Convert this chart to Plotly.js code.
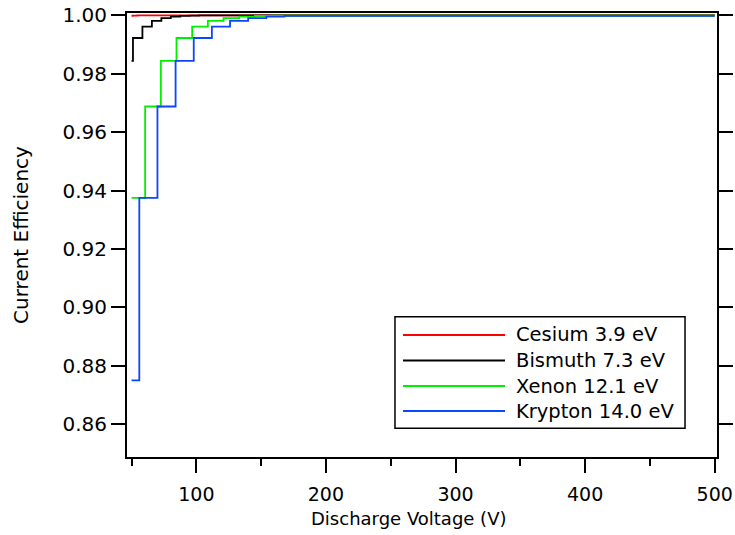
<!DOCTYPE html>
<html>
<head>
<meta charset="utf-8">
<script src="https://cdn.plot.ly/plotly-3.0.1.min.js"></script>
<style>html,body{margin:0;padding:0;background:#fff;}#chart{width:735px;height:535px;}</style>
</head>
<body>
<div id="chart"></div>
<script>
// Series names (legend labels)
const seriesNames = ["Cesium 3.9 eV", "Bismuth 7.3 eV", "Xenon 12.1 eV", "Krypton 14.0 eV"];
const seriesColors = ["#ff0000", "#000000", "#00ee00", "#0a45ff"];

// Step breakpoints (discharge voltage, V) and current efficiency after each step
const cesiumV   = [50, 50.7, 54.6, 58.5, 500];
const cesiumEff = [0.99976, 0.99988, 0.99994, 0.99997, 0.99997];

const bismuthV   = [50, 51.1, 58.4, 65.7, 73.0, 80.3, 87.6, 94.9, 102.2, 500];
const bismuthEff = [0.98438, 0.99219, 0.99609, 0.99805, 0.99902, 0.99951, 0.99976, 0.99988, 0.99994, 0.99994];

const xenonV   = [50, 60.5, 72.6, 84.7, 96.8, 108.9, 121.0, 133.1, 145.2, 157.3, 500];
const xenonEff = [0.9375, 0.96875, 0.98438, 0.99219, 0.99609, 0.99805, 0.99902, 0.99951, 0.99976, 0.99988, 0.99988];

const kryptonV   = [50, 56, 70, 84, 98, 112, 126, 140, 154, 168, 500];
const kryptonEff = [0.875, 0.9375, 0.96875, 0.98438, 0.99219, 0.99609, 0.99805, 0.99902, 0.99951, 0.99976, 0.99976];

const xTitle = 'Discharge Voltage (V)';
const yTitle = 'Current Efficiency';

const xs = [cesiumV, bismuthV, xenonV, kryptonV];
const ys = [cesiumEff, bismuthEff, xenonEff, kryptonEff];

const FONT = '"DejaVu Sans", Verdana, sans-serif';

const traces = xs.map((x, i) => ({
  type: 'scatter', mode: 'lines', x: x, y: ys[i], name: seriesNames[i],
  line: {shape: 'hv', color: seriesColors[i], width: 1.8},
  showlegend: false, hoverinfo: 'skip'
}));

// Custom legend (long line samples like the original)
const legBox = {x0: 0.4542, x1: 0.9458, y0: 0.0646, y1: 0.316};
const legRows = [0.2748, 0.2173, 0.1599, 0.1036];
const shapes = [{
  type: 'rect', xref: 'paper', yref: 'paper',
  x0: legBox.x0, x1: legBox.x1, y0: legBox.y0, y1: legBox.y1,
  line: {color: '#000', width: 1.5}, fillcolor: '#fff', layer: 'above'
}];
const annotations = [];
seriesNames.forEach((nm, i) => {
  shapes.push({type: 'line', xref: 'paper', yref: 'paper',
    x0: 0.4678, x1: 0.6407, y0: legRows[i], y1: legRows[i],
    line: {color: seriesColors[i], width: 1.8}, layer: 'above'});
  annotations.push({xref: 'paper', yref: 'paper', x: 0.6559, y: legRows[i],
    xanchor: 'left', yanchor: 'middle', text: nm, showarrow: false,
    font: {family: FONT, size: 19.5, color: '#000'}});
});
// x-axis title (placed as in the original, slightly left of centre)
annotations.push({xref: 'paper', yref: 'paper', x: 0.4763, y: -0.1396,
  xanchor: 'center', yanchor: 'middle', text: xTitle, showarrow: false,
  font: {family: FONT, size: 18, color: '#000'}});

const layout = {
  width: 735, height: 535,
  margin: {l: 127, r: 18, t: 13, b: 78, pad: 0},
  paper_bgcolor: '#fff', plot_bgcolor: '#fff',
  font: {family: FONT, size: 18, color: '#000'},
  xaxis: {
    range: [46.5, 501.8], showgrid: false, zeroline: false,
    showline: true, linecolor: '#000', linewidth: 2, mirror: true,
    ticks: 'outside', ticklen: 14, tickwidth: 2, tickcolor: '#000',
    tick0: 0, dtick: 100,
    minor: {ticks: 'outside', dtick: 50, tick0: 0, ticklen: 7, tickwidth: 2, tickcolor: '#000', showgrid: false},
    tickfont: {family: FONT, size: 19},
    ticklabelstandoff: 5
  },
  yaxis: {
    range: [0.8488, 1.00075], showgrid: false, zeroline: false,
    showline: true, linecolor: '#000', linewidth: 2, mirror: 'ticks',
    ticks: 'outside', ticklen: 14, tickwidth: 2, tickcolor: '#000',
    tick0: 0, dtick: 0.02, tickformat: '.2f',
    tickfont: {family: FONT, size: 20},
    title: {text: yTitle, font: {family: FONT, size: 20}, standoff: 28}
  },
  shapes: shapes,
  annotations: annotations
};

Plotly.newPlot('chart', traces, layout, {staticPlot: true, displayModeBar: false});
</script>
</body>
</html>
